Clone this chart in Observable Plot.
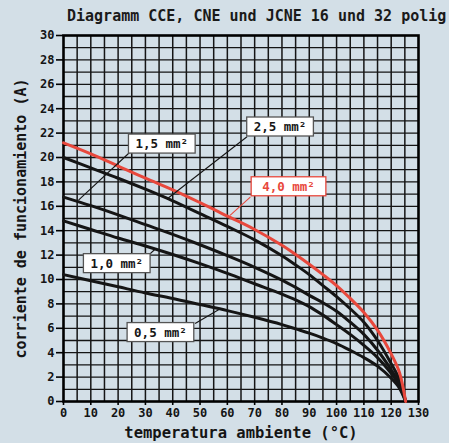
<!DOCTYPE html>
<html><head><meta charset="utf-8">
<script src="https://cdn.jsdelivr.net/npm/d3@7"></script>
<script src="https://cdn.jsdelivr.net/npm/@observablehq/plot@0.6"></script>
<style>
html,body{margin:0;padding:0;background:#d3dfe7;overflow:hidden;width:449px;height:443px}
#wrap{position:relative;width:449px;height:443px;overflow:hidden}
#title{position:absolute;left:67px;top:9px;font:bold 15px/15px "DejaVu Sans Mono";white-space:nowrap;color:#1a1a1a}
#chart{position:absolute;left:0;top:0}
</style></head><body>
<div id="wrap"><div id="chart"></div><div id="title">Diagramm CCE, CNE und JCNE 16 und 32 polig</div></div>
<script>
// ---- data ----
const titleText = "Diagramm CCE, CNE und JCNE 16 und 32 polig";
const xLabel = "temperatura ambiente (°C)";
const yLabel = "corriente de funcionamiento (A)";
const xTicks = [0,10,20,30,40,50,60,70,80,90,100,110,120,130];
const yTicks = [0,2,4,6,8,10,12,14,16,18,20,22,24,26,28,30];

const temps      = [0,   10,   20,   30,   40,    50,    60,    70,    80,   85,    90,   95,   100,  105,  110,  115,  120,  123,  125.3];
const curve4_0   = [21.2,20.3, 19.3, 18.3, 17.35, 16.3,  15.2,  14.1,  12.8, 12.05, 11.25,10.4, 9.5,  8.45, 7.3,  5.85, 3.9,  2.4,  0];
const curve2_5   = [20.0,19.15,18.3, 17.4, 16.45, 15.4,  14.35, 13.25, 11.95,11.2,  10.4, 9.5,  8.6,  7.6,  6.5,  5.0,  3.1,  1.8,  0];
const curve1_5   = [16.75,16.05,15.3,14.5, 13.7,  12.85, 11.95, 11.0,  9.95, 9.35,  8.7,  8.1,  7.4,  6.5,  5.5,  4.2,  2.6,  1.5,  0];
const curve1_0   = [14.8,14.1, 13.4, 12.75,12.05, 11.3,  10.5,  9.65,  8.8,  8.33,  7.78, 7.08, 6.3,  5.5,  4.6,  3.6,  2.3,  1.3,  0];
const curve0_5   = [10.4,9.9,  9.4,  8.9,  8.45,  7.95,  7.45,  6.9,   6.3,  5.95,  5.6,  5.2,  4.75, 4.2,  3.6,  2.9,  1.9,  1.1,  0];

const labelTexts = ["1,5 mm²", "2,5 mm²", "4,0 mm²", "1,0 mm²", "0,5 mm²"];
const labelX     = [36.0, 79.3, 82.4, 19.5, 35.5];
const labelY     = [21.1, 22.5, 17.6, 11.3, 5.65];
const leaderX1   = [24.4, 67.2, 68.4, 31.1, 48.2];
const leaderY1   = [20.45,21.7, 16.75,11.97,6.4];
const leaderX2   = [5.5,  37.9, 61.0, 33.6, 57.4];
const leaderY2   = [16.5, 16.6, 15.25,12.5, 7.6];

// ---- build tables ----
const RED = "#e8483c", INK = "#151515";
const blackSeries = [["2,5", curve2_5], ["1,5", curve1_5], ["1,0", curve1_0], ["0,5", curve0_5]];
const blackRows = blackSeries.flatMap(([s, vals]) => temps.map((t, i) => ({series: s, t, a: vals[i]})));
const redRows = temps.map((t, i) => ({series: "4,0", t, a: curve4_0[i]}));
const labels = labelTexts.map((text, i) => ({text, x: labelX[i], y: labelY[i], red: text.startsWith("4,0")}));
const leaders = labelTexts.map((text, i) => ({x1: leaderX1[i], y1: leaderY1[i], x2: leaderX2[i], y2: leaderY2[i], red: text.startsWith("4,0")}));

const chart = Plot.plot({
  width: 449, height: 443,
  marginTop: 35, marginLeft: 63, marginRight: 31, marginBottom: 42,
  style: {background: "transparent", fontFamily: "DejaVu Sans Mono", fontWeight: "bold", fontSize: "12px", color: INK},
  x: {domain: [0, 130]},
  y: {domain: [0, 30]},
  marks: [
    Plot.ruleX(d3.range(5, 130, 5), {stroke: INK, strokeWidth: 1.5}),
    Plot.ruleY(d3.range(1, 30, 1), {stroke: INK, strokeWidth: 1.3}),
    Plot.frame({stroke: "#000", strokeWidth: 2.6}),
    Plot.axisX({ticks: xTicks, tickSize: 4, tickPadding: 3, tickFormat: d => String(d), label: null, stroke: "#000", strokeWidth: 1.6}),
    Plot.axisY({ticks: yTicks, tickSize: 7, tickPadding: 2, tickFormat: d => String(d), label: null, stroke: "#000", strokeWidth: 1.6}),
    Plot.text([xLabel], {frameAnchor: "bottom", dy: 32, lineAnchor: "middle", textAnchor: "middle", text: d => d, fontSize: 15.5, fontWeight: "bold", fill: INK}),
    Plot.text([yLabel], {frameAnchor: "left", dx: -42, rotate: -90, lineAnchor: "middle", textAnchor: "middle", text: d => d, fontSize: 15, fontWeight: "bold", fill: INK}),
    Plot.line(blackRows, {x: "t", y: "a", z: "series", stroke: INK, strokeWidth: 3, curve: "catmull-rom"}),
    Plot.line(redRows, {x: "t", y: "a", stroke: RED, strokeWidth: 3, curve: "catmull-rom"}),
    Plot.link(leaders, {x1: "x1", y1: "y1", x2: "x2", y2: "y2", stroke: d => d.red ? RED : INK, strokeWidth: 1.1}),
    Plot.text(labels, {x: "x", y: "y", text: "text", fill: d => d.red ? RED : INK, fontSize: 12.5, fontWeight: "bold"})
  ]
});
document.getElementById("chart").appendChild(chart);

// white boxes behind the curve labels
d3.select(chart).selectAll("text")
  .filter(function() { return this.textContent.endsWith("mm²"); })
  .each(function() {
    const bb = this.getBBox();
    const red = this.textContent.startsWith("4,0");
    const padX = red ? 11 : 7, padY = 3;
    const rect = document.createElementNS("http://www.w3.org/2000/svg", "rect");
    rect.setAttribute("x", bb.x - padX);
    rect.setAttribute("y", bb.y - padY + 1);
    rect.setAttribute("width", bb.width + 2 * padX);
    rect.setAttribute("height", bb.height + 2 * padY - 2);
    rect.setAttribute("fill", "#fff");
    rect.setAttribute("stroke", red ? RED : "#555");
    rect.setAttribute("stroke-width", "1.3");
    const tf = this.getAttribute("transform");
    if (tf) rect.setAttribute("transform", tf);
    this.parentNode.insertBefore(rect, this);
  });
</script>
</body></html>
